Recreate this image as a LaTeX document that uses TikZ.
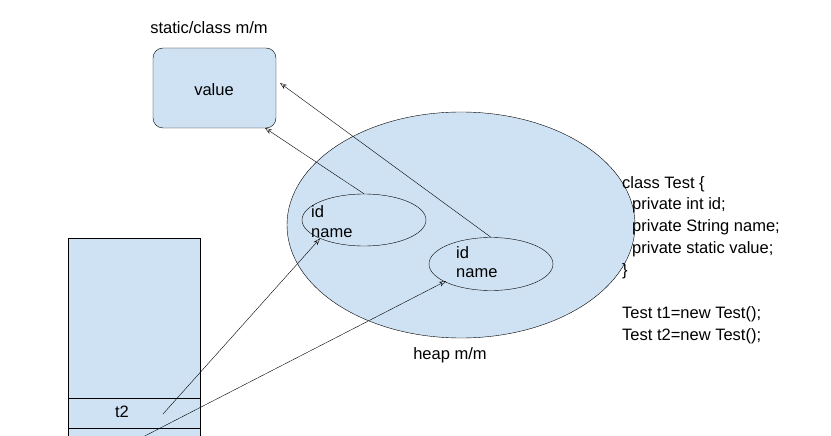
\documentclass[tikz,border=0pt]{standalone}
\usepackage{fontspec}
\setmainfont{Liberation Sans}
\usetikzlibrary{shapes.geometric,arrows.meta}
\definecolor{memblue}{HTML}{CFE2F3}
\begin{document}
\begin{tikzpicture}
[%%%%%%%%%%%%%%%%%%%%%%%%%%%%%%
x=1pt,y=-1pt,
lbl/.style={font=\fontsize{16.5}{18}\selectfont, inner sep=0pt},
obj/.style={ellipse,draw=black,fill=memblue,inner sep=0pt},
ptr/.style={-{Stealth[length=7pt,width=5pt,open]},thin},
]%%%%%%%%%%%%%%%%%%%%%%%%%%%%%%
\useasboundingbox (0,0) rectangle (831,436);
\clip (0,0) rectangle (831,436);

% static area
\node[lbl] (statlbl) at (209,28) {static/class m/m};
\node[draw=black,fill=memblue,rounded corners=10pt,minimum width=123pt,minimum height=80pt] (stat) at (214.5,88) {};
\node[lbl] (val) at (214,90) {value};

% heap
\node[obj,minimum width=348pt,minimum height=226pt] (heap) at (461,225) {};
\node[lbl] (heaplbl) at (450,355) {heap m/m};
\node[obj,minimum width=124pt,minimum height=52pt] (o1) at (364,220) {};
\node[obj,minimum width=124pt,minimum height=53pt] (o2) at (491,264) {};
\node[lbl,anchor=west,align=left] (o1txt) at (311,222) {id\\[2pt]name};
\node[lbl,anchor=west,align=left] (o2txt) at (456,262) {id\\[1pt]name};

% stack
\draw[fill=memblue] (68,450) -- (68,238) -- (200,238) -- (200,450);
\draw (68,398) -- (200,398);
\draw (68,428) -- (200,428);
\node[lbl] (t2) at (122,412) {t2};
\coordinate (t1) at (137,440);

% references
\draw[ptr] (o1.north) -- (265,128);
\draw[ptr] (o2.north) -- (280,83);
\draw[ptr] (163,414) -- (o1.south west);
\draw[ptr] (t1) -- (446,281);

% code
\node[lbl,anchor=north west,align=left] (code) at (622,176)
{class Test \{\\[3.8pt]
\hspace*{10pt}private int id;\\[3.8pt]
\hspace*{10pt}private String name;\\[3.8pt]
\hspace*{10pt}private static value;\\[3.8pt]
\}\\[25pt]
Test t1=new Test();\\[3.8pt]
Test t2=new Test();};
\end{tikzpicture}
\end{document}
